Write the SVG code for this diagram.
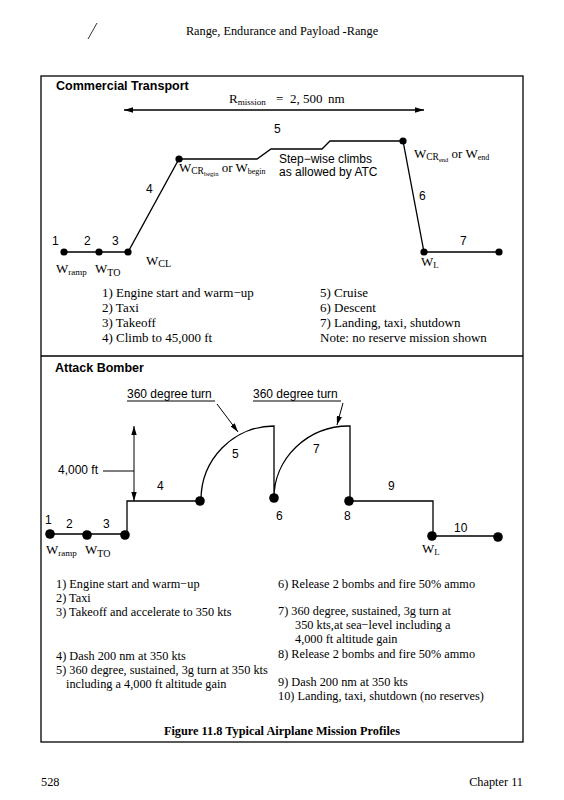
<svg xmlns="http://www.w3.org/2000/svg" width="564" height="800" viewBox="0 0 564 800">
<defs>
<marker id="ah" viewBox="0 0 10 6" refX="10" refY="3" markerWidth="9" markerHeight="5.4" markerUnits="userSpaceOnUse" orient="auto-start-reverse"><path d="M0,0 L10,3 L0,6 Z" fill="#000"/></marker>
</defs>
<style>
.lbl{font-family:"Liberation Sans",Arial,sans-serif;font-size:12px;fill:#000;}
.w{font-family:"Liberation Serif","Times New Roman",serif;font-size:13px;fill:#000;}
.leg{font-family:"Liberation Serif","Times New Roman",serif;font-size:12.3px;fill:#000;}
.cleg{font-family:"Liberation Serif","Times New Roman",serif;font-size:13px;fill:#000;}
.title{font-family:"Liberation Sans",Arial,sans-serif;font-size:12.5px;font-weight:bold;fill:#000;}
.ln{fill:none;stroke:#000;stroke-width:1.3;}
.thin{fill:none;stroke:#000;stroke-width:1;}
.dot{fill:#000;}
</style>
<rect width="564" height="800" fill="#fff"/>
<g id="page">
<line x1="88" y1="39" x2="97" y2="23" stroke="#000" stroke-width="0.8"/>
<text class="leg" x="282" y="35" text-anchor="middle" font-size="11">Range, Endurance and Payload -Range</text>
<text class="leg" x="41" y="786" font-size="11">528</text>
<text class="leg" x="523" y="786" font-size="11" text-anchor="end">Chapter 11</text>
<rect x="41" y="76" width="482" height="666" fill="none" stroke="#000" stroke-width="1.3"/>
<line x1="41" y1="356" x2="523" y2="356" stroke="#000" stroke-width="1.3"/>
</g>
<g id="commercial">
<text class="title" x="56" y="90">Commercial Transport</text>
<text class="w" x="229" y="103">R<tspan font-size="9" dy="2">mission</tspan></text>
<text class="w" x="276" y="103">=</text>
<text class="w" x="290" y="103">2, 500</text>
<text class="w" x="328" y="103">nm</text>
<g id="c-connectors">
<line class="ln" x1="124" y1="110" x2="424" y2="110" marker-start="url(#ah)" marker-end="url(#ah)"/>
<path class="ln" d="M64,252 H128 L179,159 H257 L271,149 H322 L330,141 H403 L424,252 H499"/>
</g>
<g id="c-nodes">
<circle class="dot" cx="64" cy="252" r="3.6"/>
<circle class="dot" cx="99" cy="252" r="3.6"/>
<circle class="dot" cx="128" cy="252" r="3.6"/>
<circle class="dot" cx="179" cy="159" r="3.6"/>
<circle class="dot" cx="403" cy="141" r="3.6"/>
<circle class="dot" cx="424" cy="252" r="3.6"/>
<circle class="dot" cx="499" cy="252" r="3.6"/>
</g>
<text class="lbl" x="274" y="133">5</text>
<text class="lbl" x="146" y="193">4</text>
<text class="lbl" x="52" y="245">1</text>
<text class="lbl" x="84" y="245">2</text>
<text class="lbl" x="112" y="245">3</text>
<text class="lbl" x="419" y="200">6</text>
<text class="lbl" x="460" y="245">7</text>
<text class="lbl" x="279" y="163">Step−wise climbs</text>
<text class="lbl" x="279" y="176">as allowed by ATC</text>
<text class="w" x="56" y="273">W<tspan font-size="9" dy="2">ramp</tspan></text>
<text class="w" x="95" y="273">W<tspan font-size="10" dy="3">TO</tspan></text>
<text class="w" x="146" y="265">W<tspan font-size="10" dy="2">CL</tspan></text>
<text class="w" x="179" y="172">W<tspan font-size="9.5" dy="2">CR</tspan><tspan font-size="6.5" dy="2">begin</tspan><tspan dy="-4">  or  W</tspan><tspan font-size="8" dy="2">begin</tspan></text>
<text class="w" x="414" y="158">W<tspan font-size="9.5" dy="2">CR</tspan><tspan font-size="6.5" dy="2">end</tspan><tspan dy="-4">  or  W</tspan><tspan font-size="8" dy="2">end</tspan></text>
<text class="w" x="421" y="266">W<tspan font-size="9" dy="2">L</tspan></text>
<g id="c-legend">
<text class="cleg" x="102" y="297">1)  Engine start and warm−up</text>
<text class="cleg" x="102" y="312">2)  Taxi</text>
<text class="cleg" x="102" y="327">3)  Takeoff</text>
<text class="cleg" x="102" y="342">4)  Climb to 45,000 ft</text>
<text class="cleg" x="320" y="297">5)  Cruise</text>
<text class="cleg" x="320" y="312">6)  Descent</text>
<text class="cleg" x="320" y="327">7)  Landing, taxi, shutdown</text>
<text class="cleg" x="320" y="342">Note: no reserve mission shown</text>
</g>
</g>
<g id="bomber">
<text class="title" x="55" y="372">Attack Bomber</text>
<text class="lbl" x="127" y="398">360 degree turn</text>
<line class="thin" x1="127" y1="401" x2="215" y2="401"/>
<text class="lbl" x="253" y="398">360 degree turn</text>
<line class="thin" x1="253" y1="401" x2="341" y2="401"/>
<g id="b-connectors">
<line class="thin" x1="217" y1="404" x2="238" y2="432" marker-end="url(#ah)"/>
<line class="thin" x1="343" y1="403" x2="337" y2="425" marker-end="url(#ah)"/>
<line class="thin" x1="134" y1="426" x2="134" y2="501" marker-start="url(#ah)" marker-end="url(#ah)"/>
<line class="thin" x1="103" y1="471" x2="134" y2="471"/>
<path class="ln" d="M50,534 H127 V501 H201 A73,74 0 0 1 274,426 V498 A75,72 0 0 1 350,426 V501 H433 V536 H498"/>
</g>
<g id="b-nodes">
<circle class="dot" cx="50" cy="534" r="4.8"/>
<circle class="dot" cx="87" cy="535" r="4.8"/>
<circle class="dot" cx="125" cy="535" r="4.8"/>
<circle class="dot" cx="200" cy="501" r="4.8"/>
<circle class="dot" cx="274" cy="498" r="4.8"/>
<circle class="dot" cx="349" cy="501" r="4.8"/>
<circle class="dot" cx="432" cy="536" r="4.8"/>
<circle class="dot" cx="498" cy="537" r="4.8"/>
</g>
<text class="lbl" x="58" y="474">4,000 ft</text>
<text class="lbl" x="232" y="458">5</text>
<text class="lbl" x="157" y="490">4</text>
<text class="lbl" x="45" y="524">1</text>
<text class="lbl" x="66" y="528">2</text>
<text class="lbl" x="103" y="528">3</text>
<text class="lbl" x="276" y="520">6</text>
<text class="lbl" x="344" y="520">8</text>
<text class="lbl" x="313" y="453">7</text>
<text class="lbl" x="388" y="490">9</text>
<text class="lbl" x="454" y="532">10</text>
<text class="w" x="46" y="554">W<tspan font-size="9" dy="2">ramp</tspan></text>
<text class="w" x="85" y="554">W<tspan font-size="10" dy="3">TO</tspan></text>
<text class="w" x="422" y="553">W<tspan font-size="9" dy="2">L</tspan></text>
<g id="b-legend">
<text class="leg" x="56" y="588">1) Engine start and warm−up</text>
<text class="leg" x="56" y="602">2) Taxi</text>
<text class="leg" x="56" y="616">3) Takeoff and accelerate to 350 kts</text>
<text class="leg" x="56" y="660">4) Dash 200 nm at 350 kts</text>
<text class="leg" x="56" y="674">5) 360 degree, sustained, 3g turn at 350 kts</text>
<text class="leg" x="66" y="688">including a 4,000 ft altitude gain</text>
<text class="leg" x="278" y="588">6)  Release 2 bombs and fire 50% ammo</text>
<text class="leg" x="278" y="615">7)  360 degree, sustained, 3g turn at</text>
<text class="leg" x="295" y="629">350 kts,at sea−level including a</text>
<text class="leg" x="295" y="643">4,000 ft altitude gain</text>
<text class="leg" x="278" y="658">8)   Release 2 bombs and fire 50% ammo</text>
<text class="leg" x="278" y="686">9)  Dash 200 nm at 350 kts</text>
<text class="leg" x="278" y="700">10) Landing, taxi, shutdown (no reserves)</text>
</g>
<text class="leg" x="282" y="735" text-anchor="middle" font-weight="bold" font-size="13.5">Figure 11.8 Typical Airplane Mission Profiles</text>
</g>
</svg>
